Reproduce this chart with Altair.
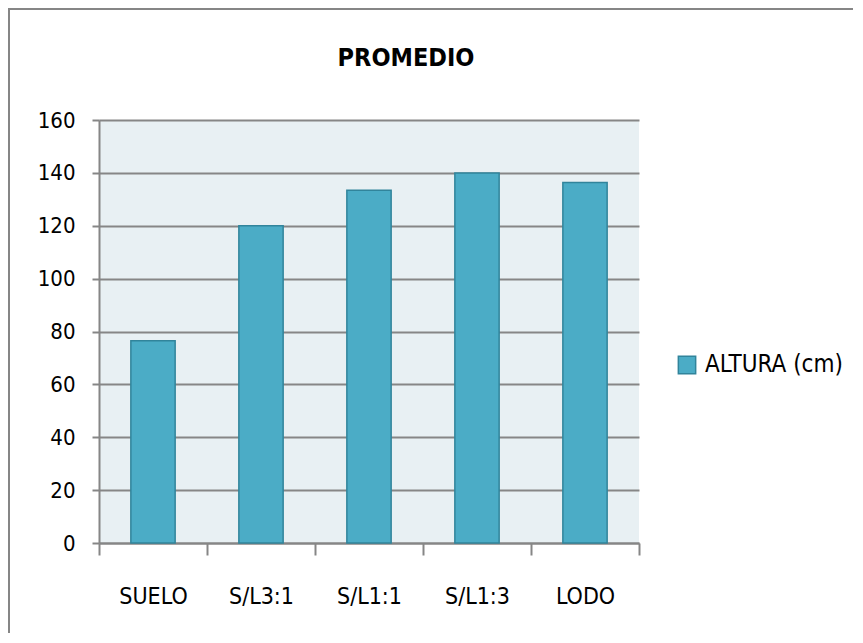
import altair as alt
import pandas as pd

categories = ["SUELO", "S/L3:1", "S/L1:1", "S/L1:3", "LODO"]
values = [76.5, 120, 133.4, 140, 136.4]
series = "ALTURA (cm)"
title_text = ["PROMEDIO"]

FONT = "Liberation Sans Narrow, DejaVu Sans Condensed, Roboto Condensed, Liberation Sans, sans-serif"
GRAY = "#868686"

df = pd.DataFrame({"cat": categories, "val": values, "serie": [series] * len(categories)})

bars = alt.Chart(df).mark_bar(stroke="#31849B", strokeWidth=1.5,
                              width=alt.RelativeBandSize(0.41)).encode(
    x=alt.X("cat:N", sort=categories, title=None,
            scale=alt.Scale(paddingInner=0, paddingOuter=0),
            axis=alt.Axis(labelAngle=0, tickBand="extent", tickSize=12, tickWidth=2,
                          tickColor=GRAY, domainColor=GRAY, domainWidth=2,
                          labelFont=FONT, labelFontSize=23, labelColor="#000000",
                          labelPadding=30, grid=False)),
    y=alt.Y("val:Q", title=None,
            scale=alt.Scale(domain=[0, 160]),
            axis=alt.Axis(values=[0, 20, 40, 60, 80, 100, 120, 140, 160],
                          tickSize=7, tickWidth=2, tickColor=GRAY,
                          domainColor=GRAY, domainWidth=2,
                          gridColor=GRAY, gridWidth=2,
                          labelFont=FONT, labelFontSize=22, labelColor="#000000",
                          labelPadding=17)),
    color=alt.Color("serie:N", title=None,
                    scale=alt.Scale(range=["#4BACC6"]),
                    legend=alt.Legend(orient="none", legendX=576, legendY=233,
                                      symbolType="square", symbolSize=300,
                                      symbolStrokeColor="#31849B", symbolStrokeWidth=1.5,
                                      labelFont=FONT, labelFontSize=24, labelColor="#000000",
                                      labelOffset=6, labelLimit=0)),
)

title_df = pd.DataFrame({"t": title_text})
title_mark = alt.Chart(title_df).mark_text(
    font=FONT, fontSize=25, fontWeight="bold", color="#000000",
    align="center", baseline="alphabetic").encode(
    text="t:N", x=alt.value(307), y=alt.value(-54))

frame_df = pd.DataFrame({"k": [0]})
frame = alt.Chart(frame_df).mark_rect(fillOpacity=0, stroke=GRAY, strokeWidth=2).encode(
    x=alt.value(-90), x2=alt.value(900), y=alt.value(-111), y2=alt.value(700))

chart = alt.layer(bars, title_mark, frame).properties(
    width=540, height=423,
    autosize=alt.AutoSizeParams(type="none"),
    padding={"left": 91, "top": 112, "right": 214, "bottom": 90},
    background="#ffffff",
).configure_view(fill="#E8F0F3", stroke=None)

chart.save("out.html", embed_options={"renderer": "svg", "actions": False})
